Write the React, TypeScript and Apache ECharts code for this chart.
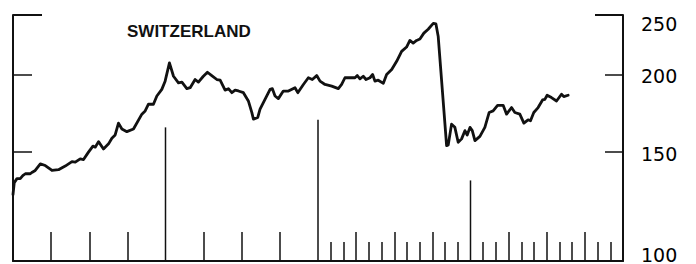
import React, { useEffect, useRef } from "react";
import * as echarts from "echarts";

// Months since January 1985 (fractional) and the Swiss share index level
const months = [
  0, 0.1, 0.31, 0.57, 0.77, 0.97, 1.36, 1.52, 1.75, 2.15, 2.54, 3.07, 3.58, 4.11, 4.64, 4.9, 5.29, 5.55, 5.94,
  6.29, 6.47, 6.73, 7.12, 7.52, 7.78, 8.04, 8.3, 8.57, 8.96, 9.48, 10.14, 10.4, 10.66, 11.05, 11.32, 11.71, 11.97,
  12.31, 12.63, 13.02, 13.29, 13.68, 13.94, 14.33, 14.59, 14.96, 15.3, 15.64, 16.04, 16.3, 16.69, 16.95, 17.22,
  17.48, 17.74, 18.13, 18.52, 18.79, 18.92, 19.26, 19.44, 19.83, 20.23, 20.41, 20.62, 20.88, 21.27, 21.67, 22.19,
  22.41, 22.85, 23.24, 23.55, 23.9, 24.16, 24.55, 25.08, 25.6, 25.86, 26.12, 26.65, 26.91, 27.09, 27.3, 27.56,
  27.78, 28.09, 28.3, 28.48, 28.74, 29.14, 29.4, 29.8, 30.19, 30.58, 30.97, 31.23, 31.49, 31.76, 32.02, 32.33,
  32.67, 33.07, 33.28, 33.46, 34.12, 34.25, 34.51, 34.77, 35.03, 35.3, 35.56, 35.74, 35.96, 36.14, 36.35, 36.74,
  37.13, 37.47, 37.78, 38.13, 38.57, 38.84, 39.23, 39.49, 39.88, 40.2, 40.53, 40.72, 40.98, 41.32, 41.67, 41.85,
  42.03, 42.37, 42.77, 43.16, 43.34, 43.68,
];
const indexValues = [
  128.1, 133.9, 135.9, 135.9, 137.4, 138.4, 138.4, 139.2, 140.1, 143.6, 142.7, 140.1, 140.5, 142.4, 144.8, 144.5,
  146.3, 145.9, 150.0, 153.4, 152.8, 156.0, 151.8, 154.7, 158.0, 159.9, 167.1, 163.5, 161.9, 163.5, 172.8, 174.9,
  179.3, 179.3, 184.9, 189.5, 195.4, 209.2, 199.0, 194.2, 194.7, 190.0, 190.7, 196.6, 194.7, 198.8, 202.0, 199.5,
  196.6, 196.1, 189.0, 190.0, 187.2, 189.0, 188.4, 187.2, 181.5, 173.9, 169.6, 170.7, 176.0, 182.6, 189.5, 190.0,
  184.9, 183.1, 188.3, 188.3, 190.7, 187.2, 193.0, 197.9, 196.6, 199.5, 195.4, 193.0, 191.8, 190.0, 193.0, 197.9,
  197.9, 197.9, 199.5, 197.1, 199.0, 196.6, 197.9, 200.3, 195.4, 196.1, 193.8, 200.3, 204.0, 210.4, 218.3, 221.9,
  227.4, 225.2, 227.4, 228.6, 233.7, 237.1, 242.4, 241.8, 230.7, 153.7, 154.1, 166.5, 164.5, 155.6, 157.6, 162.5,
  159.9, 164.5, 162.5, 156.6, 159.1, 164.5, 173.9, 174.9, 178.6, 178.6, 172.8, 177.1, 173.9, 172.8, 167.1, 169.2,
  168.6, 173.9, 177.1, 182.2, 182.6, 185.4, 183.8, 181.5, 186.1, 184.5, 185.4,
];

// Year markers (month, top value of the marker line)
const yearMarkerMonths = [12, 24, 36];
const yearMarkerTops = [164.5, 169.2, 135.0];
// Quarter ticks and month ticks along the bottom
const quarterTicks = [3, 6, 9, 15, 18, 21, 27, 30, 33, 39, 42, 45];
const monthTicks = [25, 26, 28, 29, 31, 32, 34, 35, 37, 38, 40, 41, 43, 44, 46, 47];
// Value axis
const yMin = 100;
const yMax = 250;
const yTickLabels = [100, 150, 200, 250];
const yInnerTicks = [150, 200];
const yTopTick = [250];
const title = "SWITZERLAND";

const lg = (v: number) => Math.log10(v);
const INK = "#111";

export default function App() {
  const ref = useRef<HTMLDivElement>(null);

  useEffect(() => {
    const chart = echarts.init(ref.current!, null, { renderer: "svg" });

    const yBase = (position: string) => ({
      type: "value",
      position,
      min: lg(yMin),
      max: lg(yMax),
      splitLine: { show: false },
      axisLabel: { show: false },
      axisTick: { show: false },
      axisLine: { show: false, onZero: false },
    });
    const xBase = () => ({
      type: "value",
      position: "bottom",
      min: 0,
      max: 48,
      splitLine: { show: false },
      axisLabel: { show: false },
      axisTick: { show: false },
      axisLine: { show: false, onZero: false },
    });
    const labelFont = { fontFamily: "DejaVu Sans", fontSize: 19, color: "#000" };

    chart.setOption({
      animation: false,
      backgroundColor: "#fff",
      grid: { left: 13, right: 73, top: 15, bottom: 1, containLabel: false },
      xAxis: [
        {
          ...xBase(),
          axisLine: { show: true, onZero: false, lineStyle: { color: INK, width: 2 } },
          axisTick: { show: true, inside: true, length: 29, customValues: quarterTicks, lineStyle: { color: INK, width: 1.5 } },
        },
        {
          ...xBase(),
          axisTick: { show: true, inside: true, length: 19, customValues: monthTicks, lineStyle: { color: INK, width: 1.5 } },
        },
      ],
      yAxis: [
        {
          ...yBase("right"),
          axisLine: { show: true, onZero: false, lineStyle: { color: INK, width: 2 } },
          axisTick: { show: true, inside: true, length: 18, customValues: yInnerTicks.map(lg), lineStyle: { color: INK, width: 1.5 } },
          axisLabel: {
            show: true,
            margin: 18,
            customValues: yTickLabels.map(lg),
            formatter: (v: number) => {
              const n = Math.round(Math.pow(10, v));
              if (n === 250) return `{top|${n}}`;
              if (n === 100) return `{bot|${n}}`;
              return `{mid|${n}}`;
            },
            rich: {
              top: { ...labelFont, padding: [17, 0, 0, 0] },
              mid: { ...labelFont, padding: [3, 0, 0, 0] },
              bot: { ...labelFont, padding: [0, 0, 13, 0] },
            },
          },
        },
        {
          ...yBase("right"),
          axisTick: { show: true, inside: true, length: 28, customValues: yTopTick.map(lg), lineStyle: { color: INK, width: 2 } },
        },
        {
          ...yBase("left"),
          axisLine: { show: true, onZero: false, lineStyle: { color: INK, width: 2 } },
          axisTick: { show: true, inside: true, length: 19, customValues: yInnerTicks.map(lg), lineStyle: { color: INK, width: 1.5 } },
        },
        {
          ...yBase("left"),
          axisTick: { show: true, inside: true, length: 29, customValues: yTopTick.map(lg), lineStyle: { color: INK, width: 2 } },
        },
      ],
      graphic: [
        {
          type: "text",
          x: 127,
          y: 31.5,
          style: {
            text: title,
            fontFamily: "Liberation Sans",
            fontWeight: "bold",
            fontSize: 17,
            fill: INK,
            verticalAlign: "middle",
            align: "left",
          },
        },
      ],
      series: [
        {
          type: "custom",
          name: "year markers",
          xAxisIndex: 0,
          yAxisIndex: 0,
          data: yearMarkerMonths.map((m, i) => [m, lg(yearMarkerTops[i])]),
          renderItem: (_params: any, api: any) => {
            const x = api.value(0);
            const top = api.value(1);
            const p1 = api.coord([x, lg(yMin)]);
            const p2 = api.coord([x, top]);
            return {
              type: "line",
              shape: { x1: p1[0], y1: p1[1], x2: p2[0], y2: p2[1] },
              style: { stroke: INK, lineWidth: 1.5 },
            };
          },
        },
        {
          type: "line",
          name: "Switzerland",
          xAxisIndex: 0,
          yAxisIndex: 0,
          showSymbol: false,
          symbol: "none",
          data: months.map((m, i) => [m, lg(indexValues[i])]),
          lineStyle: { color: INK, width: 2.8, join: "round", cap: "round" },
        },
      ],
    });

    return () => chart.dispose();
  }, []);

  return (
    <div
      ref={ref}
      style={{ position: "fixed", left: 0, top: 0, width: 696, height: 264, background: "#fff" }}
    />
  );
}
